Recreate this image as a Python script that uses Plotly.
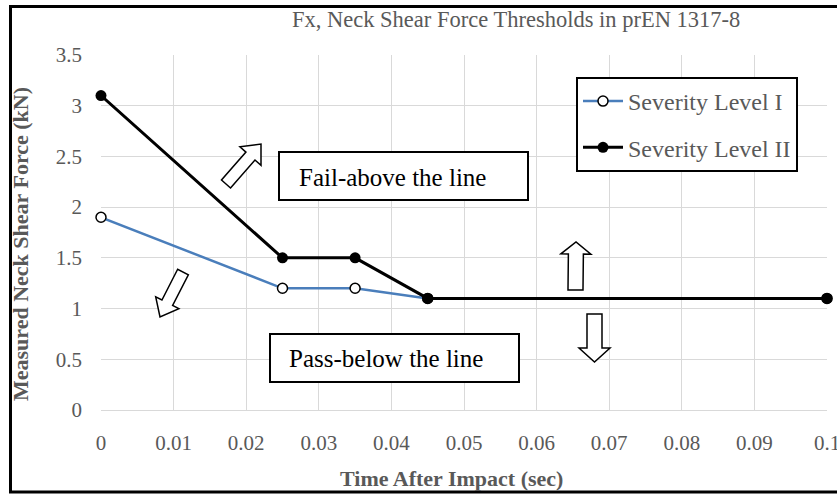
import math
import plotly.graph_objects as go

# ---------------- data ----------------
time_level1 = [0, 0.025, 0.035, 0.045, 0.1]
force_level1 = [1.9, 1.2, 1.2, 1.1, 1.1]
time_level2 = [0, 0.025, 0.035, 0.045, 0.1]
force_level2 = [3.1, 1.5, 1.5, 1.1, 1.1]
series_names = ["Severity Level I", "Severity Level II"]

x_tick_vals = [0, 0.01, 0.02, 0.03, 0.04, 0.05, 0.06, 0.07, 0.08, 0.09, 0.1]
x_tick_text = ["0", "0.01", "0.02", "0.03", "0.04", "0.05", "0.06", "0.07", "0.08", "0.09", "0.1"]
y_tick_vals = [0, 0.5, 1, 1.5, 2, 2.5, 3, 3.5]
y_tick_text = ["0", "0.5", "1", "1.5", "2", "2.5", "3", "3.5"]

title_text = "Fx, Neck Shear Force Thresholds in prEN 1317-8"
x_title = "Time After Impact (sec)"
y_title = "Measured Neck Shear Force (kN)"
fail_text = "Fail-above the line"
pass_text = "Pass-below the line"

# ---------------- layout geometry (pixels) ----------------
# figure is a bit wider than the 837px window so the last tick label is cut by the window edge
W, H = 860, 494
L, R, T, B = 101, 33, 55, 84
PW, PH = W - L - R, H - T - B


def px(x):
    return (x - L) / PW


def py(y):
    return (H - B - y) / PH


def arrow_path(tail, tip, w, hw, hl):
    tx, ty = tail
    hx, hy = tip
    dx, dy = hx - tx, hy - ty
    d = math.hypot(dx, dy)
    ux, uy = dx / d, dy / d
    nx, ny = -uy, ux
    bx, by = hx - ux * hl, hy - uy * hl
    pts = [
        (tx + nx * w, ty + ny * w),
        (bx + nx * w, by + ny * w),
        (bx + nx * hw, by + ny * hw),
        (hx, hy),
        (bx - nx * hw, by - ny * hw),
        (bx - nx * w, by - ny * w),
        (tx - nx * w, ty - ny * w),
    ]
    s = "M " + " L ".join(f"{px(a):.5f},{py(b):.5f}" for a, b in pts) + " Z"
    return s


GRAY = "#595959"
SERIF = "Liberation Serif, Times New Roman, serif"

fig = go.Figure()
fig.add_trace(go.Scatter(
    x=time_level1, y=force_level1, name=series_names[0], mode="lines+markers",
    line=dict(color="#4a7ebb", width=2.5),
    marker=dict(symbol="circle", size=10, color="white", line=dict(color="black", width=1.5)),
    cliponaxis=False, legendgroup="a",
))
fig.add_trace(go.Scatter(
    x=time_level2, y=force_level2, name=series_names[1], mode="lines+markers",
    line=dict(color="black", width=3),
    marker=dict(symbol="circle", size=11, color="black"),
    cliponaxis=False, legendgroup="b",
))

shapes = []
# outer frame of the chart
shapes.append(dict(type="line", xref="paper", yref="paper", x0=px(10.5), x1=px(10.5), y0=py(6), y1=py(492),
                   line=dict(color="black", width=3)))
shapes.append(dict(type="line", xref="paper", yref="paper", x0=px(9), x1=px(860), y0=py(6.5), y1=py(6.5),
                   line=dict(color="black", width=3)))
shapes.append(dict(type="line", xref="paper", yref="paper", x0=px(9), x1=px(860), y0=py(492), y1=py(492),
                   line=dict(color="black", width=3)))
# text boxes
shapes.append(dict(type="rect", xref="paper", yref="paper", x0=px(279), x1=px(528), y0=py(152), y1=py(200),
                   line=dict(color="black", width=2), fillcolor="white", layer="above"))
shapes.append(dict(type="rect", xref="paper", yref="paper", x0=px(270), x1=px(519), y0=py(334), y1=py(382),
                   line=dict(color="black", width=2), fillcolor="white", layer="above"))
# block arrows
for tail, tip, w, hw, hl in [
    ((226, 184), (261, 144), 6, 14, 16),
    ((183, 272), (160, 317), 6, 13, 16),
    ((575.5, 290), (576, 242), 7.5, 15, 12),
    ((594.5, 314), (594.5, 362), 7.5, 15.5, 14),
]:
    shapes.append(dict(type="path", xref="paper", yref="paper", path=arrow_path(tail, tip, w, hw, hl),
                       line=dict(color="black", width=1.5), fillcolor="white", layer="above"))

annotations = [
    dict(text=fail_text, xref="paper", yref="paper", x=px(297), y=py(177), xanchor="left", yanchor="middle",
         showarrow=False, font=dict(family=SERIF, size=25, color="black")),
    dict(text=pass_text, xref="paper", yref="paper", x=px(287), y=py(358), xanchor="left", yanchor="middle",
         showarrow=False, font=dict(family=SERIF, size=25, color="black")),
    dict(text="<b>" + x_title + "</b>", xref="paper", yref="paper", x=px(451), y=py(478),
         xanchor="center", yanchor="middle", showarrow=False, font=dict(family=SERIF, size=22, color=GRAY)),
    dict(text="<b>" + y_title + "</b>", xref="paper", yref="paper", x=px(21), y=py(244), textangle=-90,
         xanchor="center", yanchor="middle", showarrow=False, font=dict(family=SERIF, size=22, color=GRAY)),
    dict(text=title_text, xref="paper", yref="paper", x=px(516), y=py(20),
         xanchor="center", yanchor="middle", showarrow=False, font=dict(family=SERIF, size=22.5, color=GRAY)),
]

fig.update_layout(
    width=W, height=H,
    margin=dict(l=L, r=R, t=T, b=B, autoexpand=False),
    paper_bgcolor="white", plot_bgcolor="white",
    xaxis=dict(range=[0, 0.1], tickvals=x_tick_vals, ticktext=x_tick_text, showgrid=True,
               gridcolor="#d9d9d9", gridwidth=1, zeroline=False, showline=True, linecolor="#d9d9d9",
               ticks="", tickfont=dict(family=SERIF, size=21, color=GRAY), ticklabelstandoff=14),
    yaxis=dict(range=[0, 3.5], tickvals=y_tick_vals, ticktext=y_tick_text, showgrid=True,
               gridcolor="#d9d9d9", gridwidth=1, zeroline=False, showline=False,
               ticks="", tickfont=dict(family=SERIF, size=21, color=GRAY), ticklabelstandoff=18),
    legend=dict(x=px(576), y=py(77), xanchor="left", yanchor="top", bordercolor="black", borderwidth=2,
                bgcolor="white", font=dict(family=SERIF, size=24, color=GRAY), tracegroupgap=12,
                itemwidth=40),
    shapes=shapes, annotations=annotations,
)

fig.write_html(
    "out.html",
    config={"displayModeBar": False},
    post_script="document.body.style.margin='0';document.body.style.padding='0';"
                "document.body.style.overflow='hidden';document.documentElement.style.overflow='hidden';",
)
